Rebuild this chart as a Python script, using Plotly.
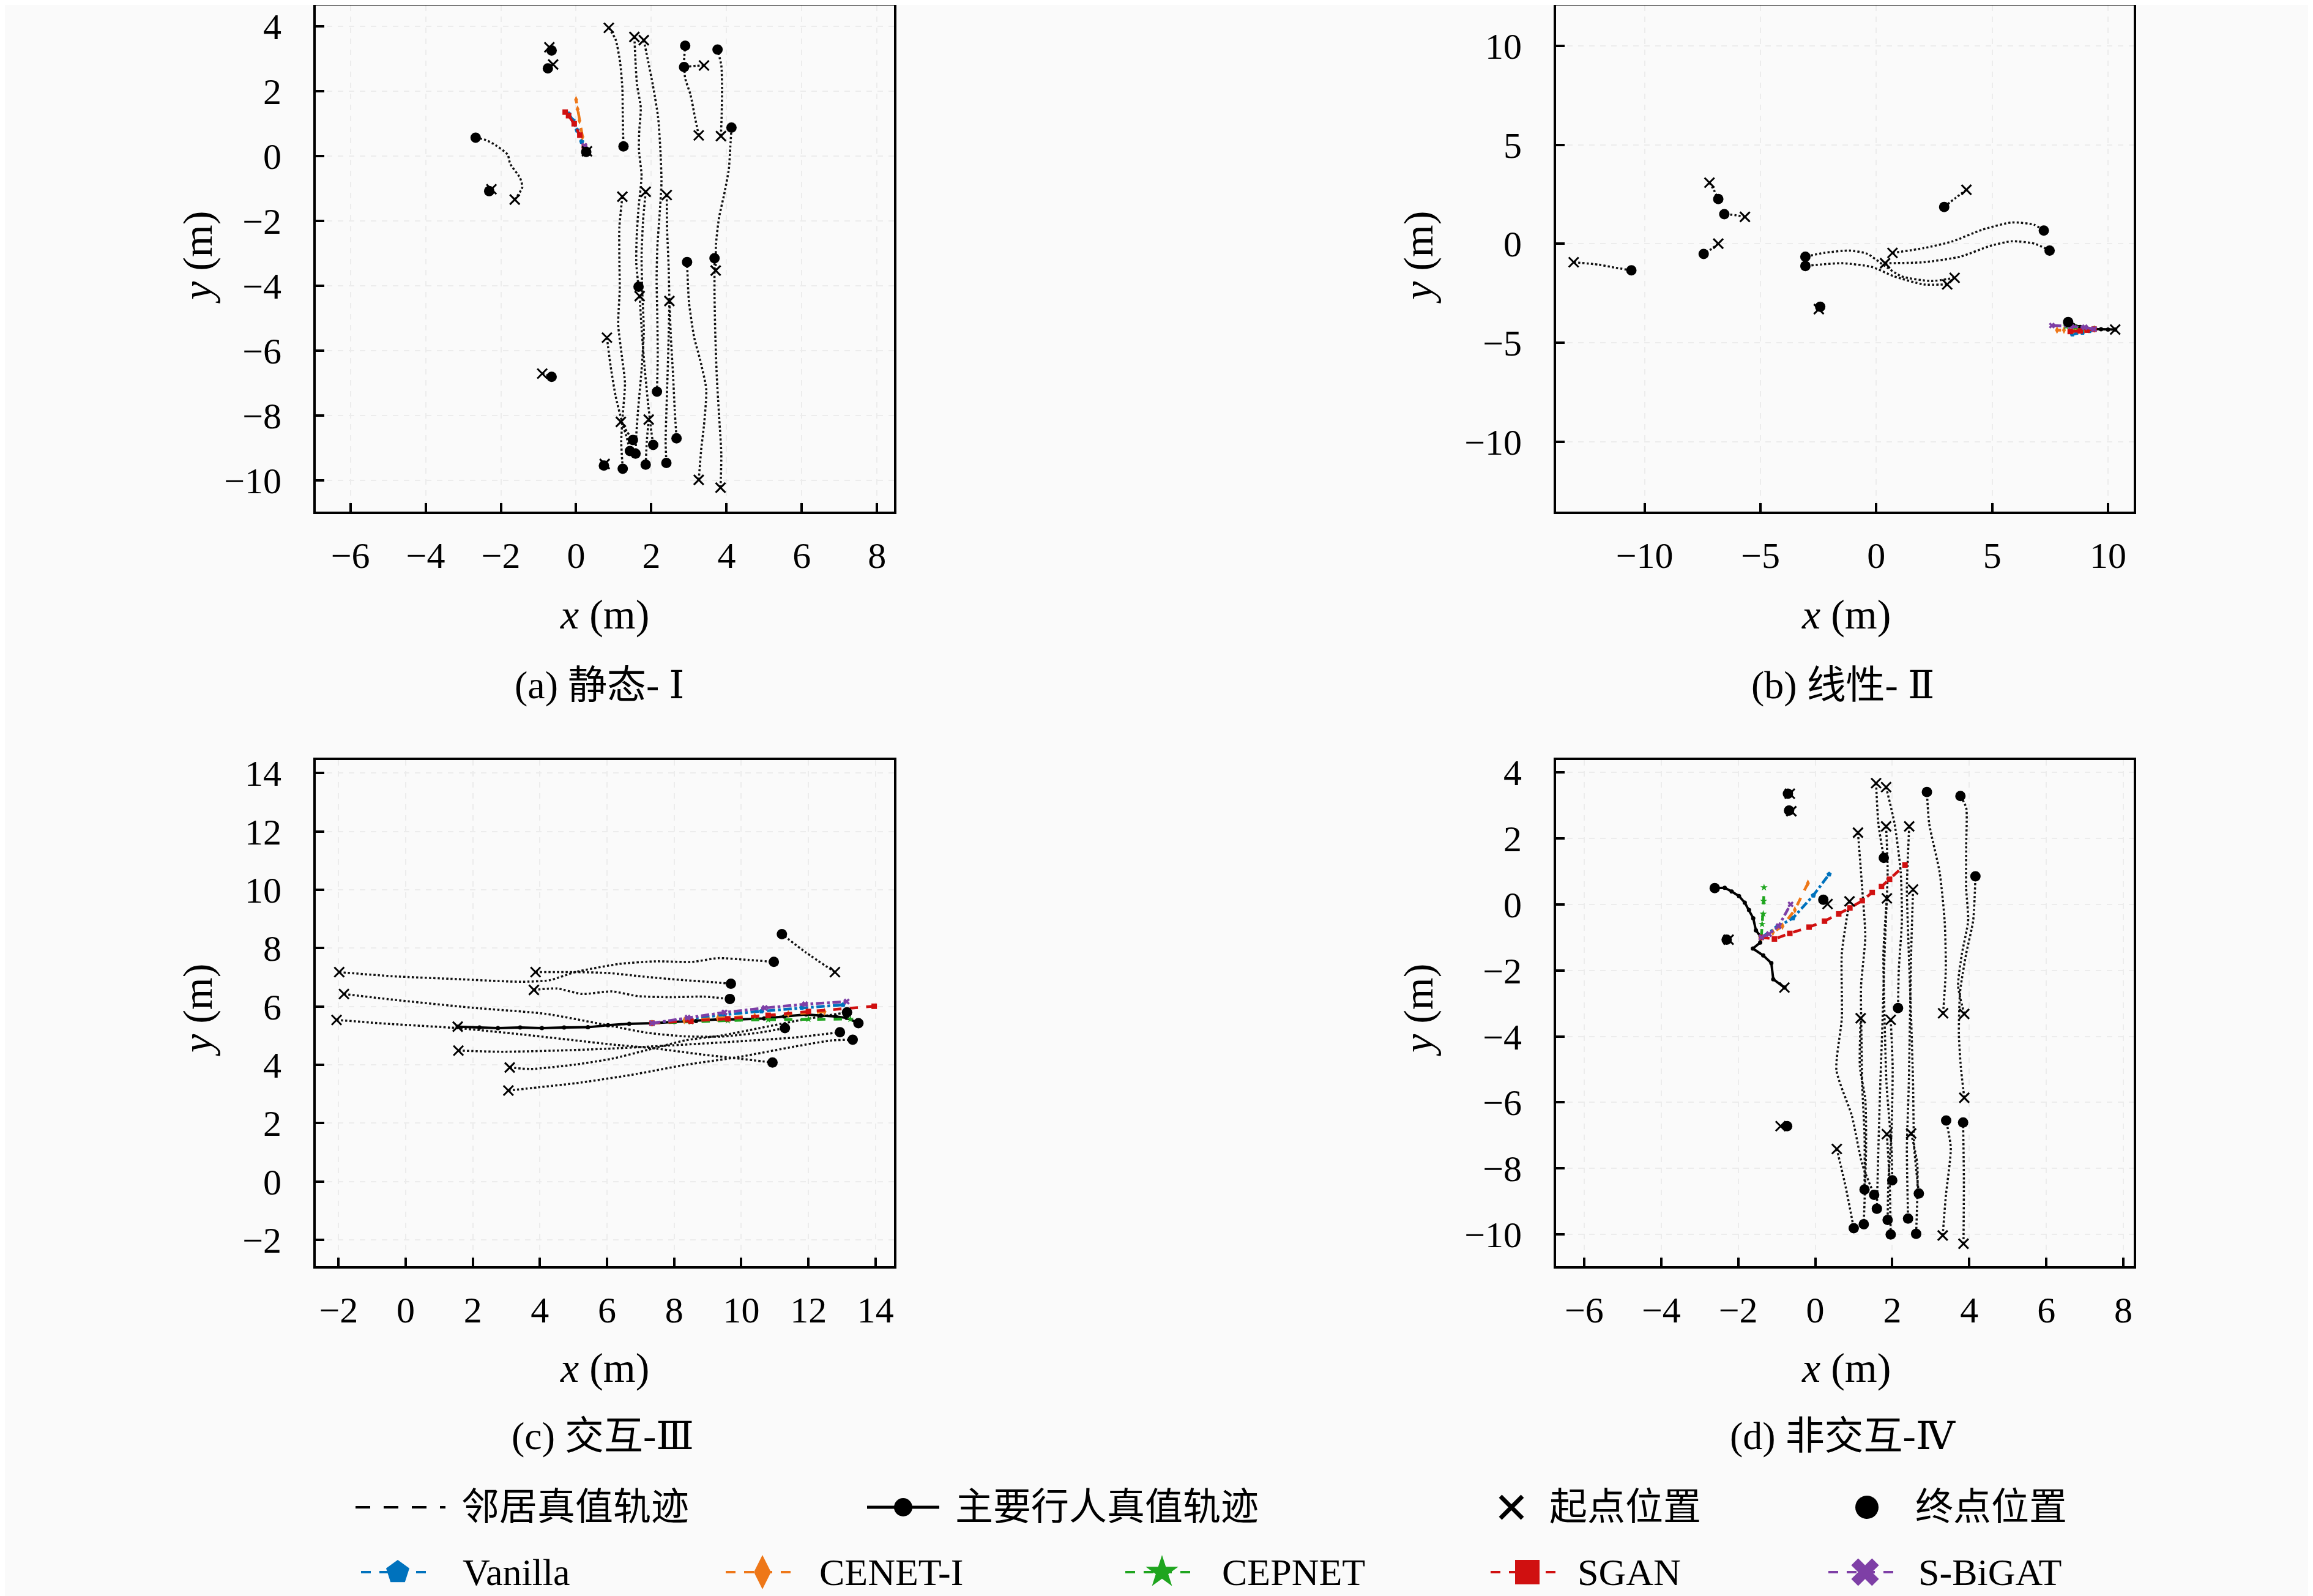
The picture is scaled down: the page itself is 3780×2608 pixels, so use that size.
import plotly.graph_objects as go

W, H = 3780, 2608
OFF = 8  # the page body margin shifts the figure by this many pixels

# ---------------------------------------------------------------- data
MODELS = ["Vanilla", "CENET-I", "CEPNET", "SGAN", "S-BiGAT"]
MODEL_COLORS = ["#0072BD", "#EE7718", "#1FA51F", "#D01010", "#7E3FA6"]
MODEL_SYMBOLS = ["pentagon", "diamond-tall", "star", "square", "x"]
MODEL_DASH = ["dashdot", "dash", "dash", "dash", "dashdot"]

LEGEND_LABELS = ["邻居真值轨迹", "主要行人真值轨迹", "起点位置", "终点位置"]
CAPTIONS = ["(a) 静态- Ⅰ", "(b) 线性- Ⅱ", "(c) 交互-Ⅲ", "(d) 非交互-Ⅳ"]

# each trajectory: first point = start (x), last point = end (dot)
A_NEIGHBOURS = [
    [(0.87, 3.96), (1.05, 3.6), (1.17, 2.9), (1.23, 2.1), (1.24, 1.3), (1.25, 0.7), (1.26, 0.30)],
    [(1.55, 3.68), (1.58, 2.9), (1.62, 2.2), (1.72, 1.5), (1.68, 0.8), (1.67, 0.2), (1.74, -0.6),
     (1.66, -1.6), (1.61, -2.5), (1.60, -3.3), (1.66, -4.03)],
    [(1.80, 3.58), (1.92, 2.9), (2.04, 2.2), (2.18, 1.2), (2.24, 0.2), (2.27, -0.8), (2.22, -1.8),
     (2.16, -2.8), (2.14, -3.8), (2.16, -5.0), (2.17, -6.2), (2.15, -7.27)],
    [(3.40, 2.80), (3.20, 2.79), (2.87, 2.75)],
    [(3.26, 0.64), (3.16, 1.2), (3.04, 1.9), (2.90, 2.4), (2.87, 2.9), (2.90, 3.41)],
    [(3.85, 0.62), (3.87, 1.3), (3.88, 2.1), (3.86, 2.8), (3.76, 3.29)],
    [(3.71, -3.53), (3.72, -2.7), (3.80, -1.9), (3.95, -1.1), (4.06, -0.4), (4.10, 0.3), (4.13, 0.88)],
    [(3.84, -10.23), (3.86, -9.2), (3.80, -8.0), (3.74, -6.8), (3.70, -5.5), (3.68, -4.3), (3.68, -3.15)],
    [(3.26, -9.99), (3.33, -9.0), (3.40, -8.3), (3.46, -7.2), (3.30, -6.3), (3.14, -5.6), (3.00, -4.5),
     (2.95, -3.27)],
    [(1.23, -1.25), (1.15, -2.2), (1.15, -3.2), (1.16, -4.1), (1.12, -5.2), (1.22, -6.2), (1.30, -7.0),
     (1.24, -8.0), (1.20, -8.8), (1.24, -9.65)],
    [(1.85, -1.10), (1.78, -2.0), (1.74, -3.1), (1.76, -4.2), (1.80, -5.4), (1.74, -6.6), (1.65, -7.8),
     (1.60, -8.6), (1.58, -9.18)],
    [(1.69, -4.32), (1.74, -5.3), (1.82, -6.5), (1.92, -7.7), (2.00, -8.5), (2.05, -8.91)],
    [(2.41, -1.20), (2.42, -2.3), (2.46, -3.4), (2.48, -4.4), (2.52, -5.6), (2.58, -6.8), (2.62, -7.8),
     (2.67, -8.71)],
    [(2.48, -4.47), (2.46, -5.6), (2.43, -6.8), (2.40, -7.9), (2.38, -8.8), (2.40, -9.47)],
    [(0.82, -5.60), (0.92, -6.5), (1.05, -7.4), (1.22, -8.2), (1.35, -8.7), (1.43, -9.10)],
    [(1.19, -8.20), (1.35, -8.5), (1.51, -8.76)],
    [(1.93, -8.13), (1.88, -8.8), (1.85, -9.52)],
    [(-0.71, 3.36), (-0.65, 3.26)],
    [(-0.61, 2.83), (-0.75, 2.71)],
    [(-1.63, -1.34), (-1.43, -0.96), (-1.49, -0.67), (-1.75, -0.24), (-1.82, 0.05), (-2.14, 0.34),
     (-2.40, 0.50), (-2.67, 0.57)],
    [(-2.25, -1.02), (-2.31, -1.08)],
    [(-0.90, -6.71), (-0.65, -6.81)],
    [(0.76, -9.50), (0.74, -9.55)],
]
A_MAIN = [(0.29, 0.15), (0.28, 0.14), (0.27, 0.13)]
A_OBS_END = 2
A_PRED = [
    [(0.15, 0.45), (0.03, 0.80), (-0.08, 1.10), (-0.19, 1.30)],
    [(0.25, 0.20), (0.17, 0.60), (0.09, 1.10), (0.04, 1.45), (0.00, 1.74)],
    [(0.28, 0.12), (0.27, 0.14), (0.29, 0.13)],
    [(0.22, 0.30), (0.10, 0.65), (-0.05, 1.00), (-0.20, 1.25), (-0.29, 1.36)],
    [(0.26, 0.15), (0.23, 0.25), (0.22, 0.32)],
]

B_NEIGHBOURS = [
    [(-13.06, -0.93), (-12.0, -1.05), (-11.3, -1.2), (-10.57, -1.34)],
    [(-7.20, 3.09), (-7.0, 2.7), (-6.82, 2.26)],
    [(-5.67, 1.36), (-6.1, 1.45), (-6.56, 1.50)],
    [(-6.82, 0.01), (-7.1, -0.25), (-7.45, -0.51)],
    [(-2.48, -3.30), (-2.42, -3.18)],
    [(3.89, 2.73), (3.4, 2.3), (2.93, 1.86)],
    [(3.38, -1.72), (2.36, -1.88), (1.08, -1.64), (0.29, -1.05), (-0.4, -0.5), (-1.15, -0.34),
     (-2.26, -0.46), (-3.06, -0.65)],
    [(3.06, -2.05), (2.04, -2.05), (0.76, -1.64), (-0.19, -1.17), (-1.46, -0.98), (-2.42, -1.05),
     (-3.06, -1.12)],
    [(0.70, -0.46), (2.04, -0.22), (3.31, 0.13), (4.59, 0.72), (5.86, 1.08), (6.82, 0.96), (7.23, 0.67)],
    [(0.38, -0.98), (2.04, -0.93), (3.63, -0.65), (4.90, -0.11), (5.86, 0.13), (6.82, 0.01), (7.48, -0.34)],
]
B_MAIN = [(10.31, -4.33), (10.0, -4.33), (9.7, -4.32), (9.4, -4.31), (9.1, -4.28), (8.8, -4.2),
          (8.5, -4.1), (8.28, -3.95)]
B_OBS_END = 3
B_PRED = [
    [(9.2, -4.40), (8.9, -4.48), (8.46, -4.57)],
    [(9.0, -4.34), (8.5, -4.36), (8.1, -4.36), (7.80, -4.36)],
    [(9.0, -4.28), (8.6, -4.22), (8.19, -4.18)],
    [(9.1, -4.36), (8.8, -4.40), (8.37, -4.43)],
    [(9.0, -4.22), (8.4, -4.17), (7.58, -4.13)],
]

C_NEIGHBOURS = [
    [(-1.98, 7.18), (-0.42, 7.04), (1.55, 6.94), (3.41, 6.85), (4.28, 6.90), (5.05, 7.18), (6.36, 7.46),
     (7.45, 7.55), (8.54, 7.53), (9.31, 7.66), (10.2, 7.60), (10.97, 7.53)],
    [(3.87, 7.18), (5.05, 7.18), (6.03, 7.15), (7.23, 7.01), (8.33, 6.90), (9.20, 6.83), (9.69, 6.78)],
    [(3.82, 6.57), (4.50, 6.62), (5.26, 6.43), (6.14, 6.52), (6.90, 6.36), (7.89, 6.32), (8.87, 6.34),
     (9.66, 6.26)],
    [(-1.84, 6.43), (-0.42, 6.24), (1.98, 5.96), (4.17, 5.75), (6.14, 5.33), (7.2, 5.10), (8.3, 4.98),
     (9.4, 4.97), (10.5, 5.1), (11.30, 5.26)],
    [(-2.06, 5.54), (-0.42, 5.40), (1.55, 5.26), (3.41, 5.05), (5.05, 4.84), (6.14, 4.70), (7.45, 4.56),
     (8.87, 4.35), (9.97, 4.21), (10.93, 4.08)],
    [(3.10, 3.91), (3.73, 3.86), (5.05, 4.01), (6.14, 4.21), (7.23, 4.52), (8.33, 4.84), (9.42, 5.01),
     (10.5, 5.25), (11.6, 5.5), (12.6, 5.7), (13.15, 5.80)],
    [(1.57, 4.49), (2.86, 4.45), (4.50, 4.49), (6.14, 4.56), (7.78, 4.66), (9.42, 4.77), (11.6, 4.94),
     (12.94, 5.12)],
    [(3.06, 3.12), (3.95, 3.23), (5.05, 3.37), (6.69, 3.65), (8.33, 4.00), (9.97, 4.28), (11.6, 4.63),
     (12.7, 4.84), (13.32, 4.86)],
    [(12.79, 7.18), (11.93, 7.85), (11.21, 8.48)],
]
C_MAIN = [(1.55, 5.31), (2.20, 5.28), (2.75, 5.26), (3.41, 5.28), (4.06, 5.26), (4.72, 5.28), (5.43, 5.29),
          (6.03, 5.36), (6.66, 5.41), (7.34, 5.43), (8.0, 5.47), (8.65, 5.50), (9.31, 5.56), (9.97, 5.56),
          (10.68, 5.59), (11.28, 5.66), (11.93, 5.73), (12.37, 5.69), (12.81, 5.66), (13.14, 5.61),
          (13.49, 5.43)]
C_OBS_END = 9
C_PRED = [
    [(8.4, 5.58), (9.5, 5.72), (10.6, 5.84), (11.8, 5.96), (13.03, 6.06)],
    [(8.3, 5.52), (9.3, 5.60), (10.4, 5.67), (11.4, 5.75), (12.48, 5.82)],
    [(8.5, 5.48), (9.6, 5.52), (10.8, 5.55), (12.0, 5.57), (13.25, 5.57)],
    [(8.5, 5.50), (9.6, 5.58), (10.8, 5.70), (12.0, 5.83), (13.96, 6.01)],
    [(8.4, 5.62), (9.5, 5.80), (10.7, 5.95), (11.9, 6.08), (13.14, 6.17)],
]

D_NEIGHBOURS = [
    [(3.32, -3.30), (3.39, -1.98), (3.36, -0.50), (3.23, 0.97), (2.96, 2.44), (2.90, 3.40)],
    [(3.87, -3.32), (3.71, -2.47), (3.81, -1.49), (3.97, -0.50), (3.92, 0.48), (3.92, 1.8), (3.92, 2.93),
     (3.77, 3.28)],
    [(3.87, -5.86), (3.78, -4.92), (3.73, -3.94), (3.76, -2.66), (3.92, -1.49), (4.10, -0.50), (4.16, 0.85)],
    [(3.31, -10.03), (3.39, -8.85), (3.52, -7.38), (3.40, -6.55)],
    [(3.85, -10.28), (3.86, -8.36), (3.84, -6.61)],
    [(1.58, 3.67), (1.64, 2.44), (1.78, 1.41)],
    [(1.84, 3.55), (2.06, 2.44), (2.22, 0.97), (2.25, -0.50), (2.17, -1.98), (2.15, -3.14)],
    [(1.11, 2.17), (1.22, 0.47), (1.30, -0.99), (1.19, -2.47), (1.20, -4.0), (1.22, -5.5), (1.28, -7.0),
     (1.28, -8.64)],
    [(0.89, 0.09), (0.69, -1.49), (0.69, -3.45), (0.55, -5.02), (0.95, -6.40), (1.22, -7.87), (1.53, -8.80)],
    [(1.84, 2.36), (1.88, 1.0), (1.80, -1.49), (1.75, -3.45), (1.69, -5.42), (1.64, -7.38), (1.60, -9.22)],
    [(2.44, 2.36), (2.38, 0.48), (2.43, -1.49), (2.49, -3.45), (2.54, -5.42), (2.57, -7.38), (2.69, -8.76)],
    [(2.54, 0.45), (2.49, -1.49), (2.46, -3.45), (2.43, -5.42), (2.38, -7.38), (2.41, -9.52)],
    [(1.86, 0.18), (1.77, -1.49), (1.80, -3.45), (1.85, -5.42), (1.98, -7.38), (2.00, -8.36)],
    [(1.18, -3.45), (1.16, -4.92), (1.30, -5.91), (1.32, -7.38), (1.26, -9.69)],
    [(1.96, -3.50), (2.01, -4.92), (1.98, -6.89), (1.90, -8.36), (1.88, -9.56)],
    [(1.86, -6.96), (1.93, -8.36), (1.96, -10.0)],
    [(2.49, -6.94), (2.65, -7.87), (2.62, -9.98)],
    [(0.56, -7.41), (0.79, -8.56), (1.00, -9.81)],
    [(-0.66, 3.35), (-0.71, 3.35)],
    [(-0.62, 2.82), (-0.68, 2.84)],
    [(0.32, 0.01), (0.21, 0.14)],
    [(-2.25, -1.07), (-2.30, -1.07)],
    [(-0.90, -6.72), (-0.73, -6.72)],
]
D_MAIN = [(-0.80, -2.52), (-1.09, -2.27), (-1.14, -1.78), (-1.35, -1.55), (-1.62, -1.34), (-1.43, -1.16),
          (-1.40, -1.00), (-1.54, -0.79), (-1.61, -0.42), (-1.72, -0.17), (-1.83, 0.05), (-1.98, 0.25),
          (-2.17, 0.39), (-2.35, 0.50), (-2.61, 0.49)]
D_OBS_END = 6
D_PRED = [
    [(-1.0, -0.7), (-0.58, -0.42), (-0.05, 0.27), (0.36, 0.91)],
    [(-1.1, -0.85), (-0.85, -0.66), (-0.53, -0.17), (-0.19, 0.64)],
    [(-1.38, -0.6), (-1.35, -0.29), (-1.34, 0.1), (-1.33, 0.51)],
    [(-1.06, -1.05), (-0.66, -0.88), (-0.16, -0.69), (0.24, -0.51), (0.61, -0.29), (0.90, -0.11),
     (1.22, 0.11), (1.48, 0.36), (1.72, 0.54), (1.93, 0.76), (2.33, 1.19)],
    [(-1.2, -0.9), (-0.95, -0.66), (-0.64, 0.0)],
]

A_XTICKS = [-6, -4, -2, 0, 2, 4, 6, 8]
A_YTICKS = [-10, -8, -6, -4, -2, 0, 2, 4]
B_XTICKS = [-10, -5, 0, 5, 10]
B_YTICKS = [-10, -5, 0, 5, 10]
C_XTICKS = [-2, 0, 2, 4, 6, 8, 10, 12, 14]
C_YTICKS = [-2, 0, 2, 4, 6, 8, 10, 12, 14]
D_XTICKS = A_XTICKS
D_YTICKS = A_YTICKS

# ---------------------------------------------------------------- layout constants (pixels)
PANELS = [
    dict(nb=A_NEIGHBOURS, main=A_MAIN, obs=A_OBS_END, pred=A_PRED, xr=[-6.92, 8.45], yr=[-10.97, 4.65],
         xt=A_XTICKS, yt=A_YTICKS, box=(516, 1461, 9, 836)),
    dict(nb=B_NEIGHBOURS, main=B_MAIN, obs=B_OBS_END, pred=B_PRED, xr=[-13.82, 11.11], yr=[-13.53, 12.04],
         xt=B_XTICKS, yt=B_YTICKS, box=(2543, 3487, 9, 836)),
    dict(nb=C_NEIGHBOURS, main=C_MAIN, obs=C_OBS_END, pred=C_PRED, xr=[-2.68, 14.55], yr=[-2.90, 14.45],
         xt=C_XTICKS, yt=C_YTICKS, box=(516, 1461, 1242, 2069)),
    dict(nb=D_NEIGHBOURS, main=D_MAIN, obs=D_OBS_END, pred=D_PRED, xr=[-6.73, 8.27], yr=[-10.96, 4.37],
         xt=D_XTICKS, yt=D_YTICKS, box=(2543, 3487, 1242, 2069)),
]
XTITLE_POS = [(988, 1004), (3017, 1004), (988, 2235), (3017, 2235)]
YTITLE_POS = [(323, 421), (2318, 421), (323, 1651), (2318, 1651)]
CAPTION_POS = [(980, 1119), (3011, 1119), (985, 2346), (3011, 2346)]

SERIF = "Liberation Serif, DejaVu Serif, Noto Sans CJK SC, serif"
BG = "#FAFAFA"


def px(xp):
    return (xp - OFF) / W


def py(yp):
    return 1 - (yp - OFF) / H


def xy(points):
    return [p[0] for p in points], [p[1] for p in points]


def joined(trajs):
    xs, ys = [], []
    for t in trajs:
        x, y = xy(t)
        xs += x + [None]
        ys += y + [None]
    return xs, ys


def note(x, y, text, size, **kw):
    opts = dict(x=px(x), y=py(y), xref="paper", yref="paper", showarrow=False,
                xanchor="center", yanchor="middle", text=text,
                font=dict(family=SERIF, size=size, color="black"))
    opts.update(kw)
    return opts


fig = go.Figure()
layout_axes = {}
annotations = []

for i, p in enumerate(PANELS):
    n = "" if i == 0 else str(i + 1)
    xa, ya = "x" + n, "y" + n

    nx, ny = joined(p["nb"])
    fig.add_trace(go.Scatter(
        x=nx, y=ny, xaxis=xa, yaxis=ya, mode="lines", connectgaps=False,
        line=dict(color="#111111", width=3.5, dash="dot", shape="spline", smoothing=0.6),
        hoverinfo="skip", showlegend=False))

    mx, my = xy(p["main"])
    fig.add_trace(go.Scatter(
        x=mx, y=my, xaxis=xa, yaxis=ya, mode="lines+markers",
        line=dict(color="black", width=4), marker=dict(size=7, color="black"),
        hoverinfo="skip", showlegend=False))

    start = p["main"][p["obs"]]
    for k, pr in enumerate(p["pred"]):
        qx, qy = xy([start] + pr)
        fig.add_trace(go.Scatter(
            x=qx, y=qy, xaxis=xa, yaxis=ya, mode="lines+markers",
            line=dict(color=MODEL_COLORS[k], width=4.5, dash=MODEL_DASH[k]),
            marker=dict(symbol=MODEL_SYMBOLS[k], size=9, color=MODEL_COLORS[k], line=dict(width=0)),
            hoverinfo="skip", showlegend=False))

    trajs = p["nb"] + [p["main"]]
    fig.add_trace(go.Scatter(
        x=[t[0][0] for t in trajs], y=[t[0][1] for t in trajs], xaxis=xa, yaxis=ya, mode="markers",
        marker=dict(symbol="x-thin", size=16, line=dict(width=3, color="black")),
        hoverinfo="skip", showlegend=False))
    fig.add_trace(go.Scatter(
        x=[t[-1][0] for t in trajs], y=[t[-1][1] for t in trajs], xaxis=xa, yaxis=ya, mode="markers",
        marker=dict(symbol="circle", size=17, color="black"),
        hoverinfo="skip", showlegend=False))

    x0, x1, y0, y1 = p["box"]
    common = dict(
        showline=True, linewidth=4, linecolor="black", mirror=True,
        ticks="inside", ticklen=14, tickwidth=4, tickcolor="black",
        showgrid=True, gridcolor="#ececec", gridwidth=2, griddash="dash",
        zeroline=False,
        tickfont=dict(family=SERIF, size=60, color="black"),
    )
    layout_axes["xaxis" + n] = dict(common, domain=[px(x0), px(x1)], anchor=ya, range=p["xr"],
                                    tickvals=p["xt"], ticklabelstandoff=16)
    layout_axes["yaxis" + n] = dict(common, domain=[py(y1), py(y0)], anchor=xa, range=p["yr"],
                                    tickvals=p["yt"], ticklabelstandoff=40)

    annotations.append(note(*XTITLE_POS[i], "<i>x</i> (m)", 68))
    annotations.append(note(*YTITLE_POS[i], "<i>y</i> (m)", 68, textangle=-90))
    annotations.append(note(*CAPTION_POS[i], CAPTIONS[i], 64))

# ---------------------------------------------------------------- hand-made legend
ROW_Y = [2463, 2569]
leg = dict(xaxis="x5", yaxis="y5", hoverinfo="skip", showlegend=False)

fig.add_trace(go.Scatter(x=[581, 728], y=[ROW_Y[0]] * 2, mode="lines",
                         line=dict(color="black", width=4, dash="24px,22px"), **leg))
fig.add_trace(go.Scatter(x=[1417, 1535], y=[ROW_Y[0]] * 2, mode="lines",
                         line=dict(color="black", width=5), **leg))
fig.add_trace(go.Scatter(x=[1476], y=[ROW_Y[0]], mode="markers",
                         marker=dict(size=30, color="black"), **leg))
fig.add_trace(go.Scatter(x=[2470], y=[ROW_Y[0]], mode="markers",
                         marker=dict(symbol="x-thin", size=36, line=dict(width=7, color="black")), **leg))
fig.add_trace(go.Scatter(x=[3051], y=[ROW_Y[0]], mode="markers",
                         marker=dict(size=38, color="black"), **leg))
for label, tx in zip(LEGEND_LABELS, [752, 1559, 2530, 3128]):
    annotations.append(note(tx, ROW_Y[0], label, 62, xanchor="left"))

for k, (lx, tx) in enumerate(zip([590, 1186, 1839, 2436, 2988], [754, 1337, 1995, 2576, 3133])):
    fig.add_trace(go.Scatter(x=[lx, lx + 120], y=[ROW_Y[1]] * 2, mode="lines",
                             line=dict(color=MODEL_COLORS[k], width=4, dash="16px,14px"), **leg))
    fig.add_trace(go.Scatter(x=[lx + 60], y=[ROW_Y[1]], mode="markers",
                             marker=dict(symbol=MODEL_SYMBOLS[k], size=40, color=MODEL_COLORS[k],
                                         line=dict(width=0)), **leg))
    annotations.append(note(tx, ROW_Y[1], MODELS[k], 62, xanchor="left"))

# legend subplot uses page pixels directly (shifted by the body margin)
layout_axes["xaxis5"] = dict(domain=[0, 1], range=[OFF, W + OFF], visible=False, fixedrange=True,
                             anchor="y5")
layout_axes["yaxis5"] = dict(domain=[0, 0.12], range=[H + OFF, H + OFF - 0.12 * H], visible=False,
                             fixedrange=True, anchor="x5")

fig.update_layout(
    width=W, height=H,
    margin=dict(l=0, r=0, t=0, b=0, autoexpand=False),
    paper_bgcolor=BG, plot_bgcolor=BG,
    showlegend=False,
    annotations=annotations,
    **layout_axes,
)

fig.write_html("out.html")
